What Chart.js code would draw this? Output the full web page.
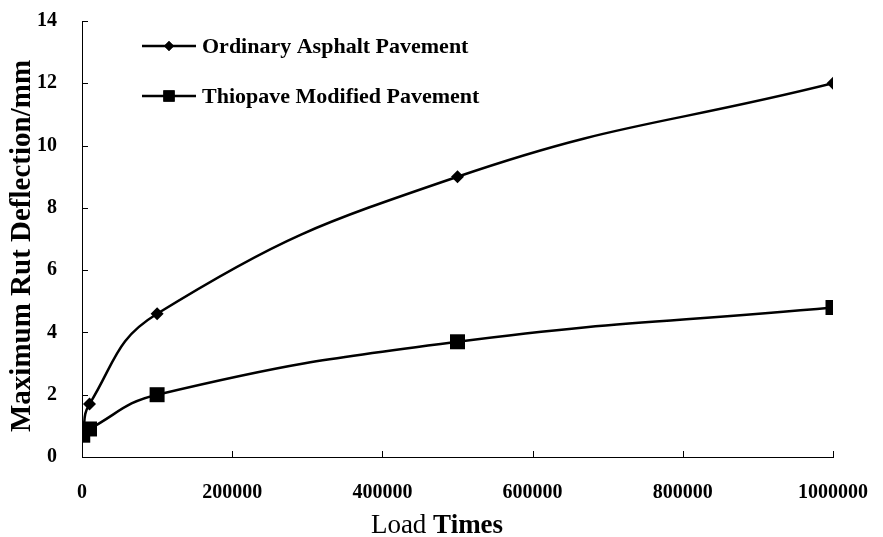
<!DOCTYPE html>
<html>
<head>
<meta charset="utf-8">
<script src="https://cdn.jsdelivr.net/npm/chart.js@4/dist/chart.umd.min.js"></script>
<style>
  html, body { margin: 0; padding: 0; background: #fff; }
  #wrap { width: 883px; height: 537px; }
</style>
</head>
<body>
<div id="wrap"><canvas id="c" width="883" height="537"></canvas></div>
<script>
// Rut deflection vs. number of load repetitions
const loadTimes = [1000, 10000, 100000, 500000, 1000000];
const ordinaryAsphalt = [0.7, 1.7, 4.6, 9.0, 12.0];
const thiopaveModified = [0.7, 0.9, 2.0, 3.7, 4.8];
const seriesNames = ['Ordinary Asphalt Pavement', 'Thiopave Modified Pavement'];
const xTicks = [0, 200000, 400000, 600000, 800000, 1000000];
const yTicks = [0, 2, 4, 6, 8, 10, 12, 14];
const xTitleWords = ['Load', 'Times'];
const yTitle = 'Maximum Rut Deflection/mm';

const SERIF = '"Liberation Serif", "Times New Roman", serif';

const toPoints = (xs, ys) => xs.map((x, i) => ({ x: x, y: ys[i] }));

// Tick marks that point into the plot area
const innerTicks = {
  id: 'innerTicks',
  afterDraw(chart) {
    const { ctx, chartArea, scales } = chart;
    ctx.save();
    ctx.strokeStyle = '#000';
    ctx.lineWidth = 1;
    ctx.beginPath();
    xTicks.forEach(v => {
      const px = Math.round(scales.x.getPixelForValue(v)) + 0.5;
      ctx.moveTo(px, chartArea.bottom);
      ctx.lineTo(px, chartArea.bottom - 6);
    });
    yTicks.forEach(v => {
      const py = Math.round(scales.y.getPixelForValue(v)) + 0.5;
      ctx.moveTo(chartArea.left, py);
      ctx.lineTo(chartArea.left + 6, py);
    });
    ctx.stroke();
    ctx.restore();
  }
};

// Axis titles: "Load" in regular weight followed by a bold "Times"; rotated y title
const axisTitles = {
  id: 'axisTitles',
  afterDraw(chart) {
    const { ctx } = chart;
    ctx.save();
    ctx.fillStyle = '#000';
    ctx.textBaseline = 'alphabetic';
    ctx.textAlign = 'left';
    const fLoad = 'normal 27px ' + SERIF;
    const fTimes = 'bold 27px ' + SERIF;
    ctx.font = fLoad;
    const w1 = ctx.measureText(xTitleWords[0] + ' ').width;
    ctx.font = fTimes;
    const w2 = ctx.measureText(xTitleWords[1]).width;
    const x0 = 437 - (w1 + w2) / 2;
    ctx.font = fLoad;
    ctx.fillText(xTitleWords[0] + ' ', x0, 533);
    ctx.font = fTimes;
    ctx.fillText(xTitleWords[1], x0 + w1, 533);

    ctx.translate(23, 246);
    ctx.rotate(-Math.PI / 2);
    ctx.font = 'bold 29px ' + SERIF;
    ctx.textAlign = 'center';
    ctx.textBaseline = 'middle';
    ctx.fillText(yTitle, 0, 0);
    ctx.restore();
  }
};

// Legend drawn as line samples with the series markers
const lineLegend = {
  id: 'lineLegend',
  afterDraw(chart) {
    const { ctx } = chart;
    const rows = [
      { y: 46, style: 'rectRot', r: 5 },
      { y: 96, style: 'rect', r: 8 }
    ];
    ctx.save();
    rows.forEach((row, i) => {
      ctx.strokeStyle = '#000';
      ctx.lineWidth = 2.5;
      ctx.beginPath();
      ctx.moveTo(142, row.y);
      ctx.lineTo(196, row.y);
      ctx.stroke();
      ctx.fillStyle = '#000';
      Chart.helpers.drawPoint(ctx, { pointStyle: row.style, radius: row.r, borderWidth: 0 }, 169, row.y);
      ctx.fill();
      ctx.font = 'bold 22px ' + SERIF;
      ctx.textAlign = 'left';
      ctx.textBaseline = 'middle';
      ctx.fillText(seriesNames[i], 202, row.y + 1);
    });
    ctx.restore();
  }
};

new Chart(document.getElementById('c'), {
  type: 'line',
  data: {
    datasets: [
      {
        label: seriesNames[0],
        data: toPoints(loadTimes, ordinaryAsphalt),
        borderColor: '#000',
        backgroundColor: '#000',
        borderWidth: 2.5,
        pointStyle: 'rectRot',
        pointRadius: 6.5,
        pointBorderWidth: 0,
        tension: 0.45
      },
      {
        label: seriesNames[1],
        data: toPoints(loadTimes, thiopaveModified),
        borderColor: '#000',
        backgroundColor: '#000',
        borderWidth: 2.5,
        pointStyle: 'rect',
        pointRadius: 10.6,
        pointBorderWidth: 0,
        tension: 0.45
      }
    ]
  },
  options: {
    responsive: false,
    animation: false,
    layout: { padding: { left: 0, right: 50, top: 21, bottom: 0 } },
    plugins: {
      legend: { display: false },
      tooltip: { enabled: false }
    },
    scales: {
      x: {
        type: 'linear',
        min: 0,
        max: 1000000,
        afterBuildTicks(scale) { scale.ticks = xTicks.map(v => ({ value: v })); },
        afterFit(scale) {
          scale.height = 80;
          scale.paddingLeft = 0;
          scale.paddingRight = 0;
        },
        grid: { display: true, drawOnChartArea: false, drawTicks: false },
        border: { display: true, color: '#000', width: 1 },
        ticks: {
          color: '#000',
          padding: 24,
          maxRotation: 0,
          font: { family: SERIF, size: 20, weight: 'bold' },
          callback: v => String(v)
        },
        title: { display: false }
      },
      y: {
        min: 0,
        max: 14,
        afterBuildTicks(scale) { scale.ticks = yTicks.map(v => ({ value: v })); },
        afterFit(scale) {
          scale.width = 82;
          scale.paddingTop = 0;
          scale.paddingBottom = 0;
        },
        grid: { display: true, drawOnChartArea: false, drawTicks: false },
        border: { display: true, color: '#000', width: 1 },
        ticks: {
          color: '#000',
          padding: 25,
          font: { family: SERIF, size: 20, weight: 'bold' }
        },
        title: { display: false }
      }
    }
  },
  plugins: [innerTicks, axisTitles, lineLegend]
});
</script>
</body>
</html>
